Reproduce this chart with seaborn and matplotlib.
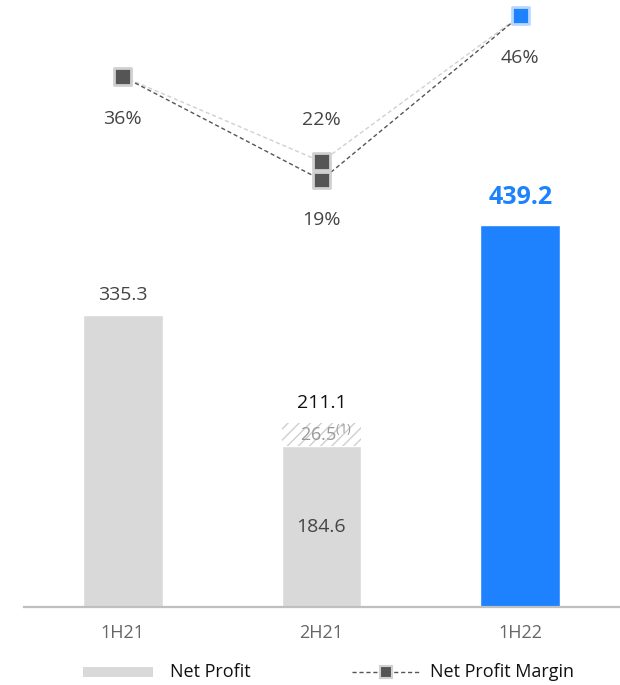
import matplotlib
matplotlib.use("Agg")
import matplotlib.pyplot as plt
from matplotlib.patches import Rectangle
from matplotlib.lines import Line2D
import seaborn as sns
import pandas as pd

# Half-year results
periods = ["1H21", "2H21", "1H22"]
net_profit = [335.3, 184.6, 439.2]          # base net profit
adjustment = [0.0, 26.5, 0.0]               # one-off item stacked on 2H21
total_profit = [335.3, 211.1, 439.2]
margin_reported = [36, 19, 46]              # net profit margin, %
margin_adjusted = [36, 22, 46]              # margin including the adjustment, %

GRAY_BAR = "#d9d9d9"
BLUE = "#1e82ff"
DARK = "#555555"
LIGHT = "#d0d0d0"
TEXT = "#444444"

sns.set_theme(style="white")
plt.rcParams["font.family"] = ["Open Sans", "Noto Sans", "DejaVu Sans"]
plt.rcParams["mathtext.fontset"] = "custom"
plt.rcParams["mathtext.rm"] = "Open Sans"
plt.rcParams["hatch.linewidth"] = 1.0
plt.rcParams["hatch.color"] = "#cfcfcf"

W, H = 620, 685
fig = plt.figure(figsize=(W / 100, H / 100), dpi=100)
ax = fig.add_axes([24 / W, 78 / H, 595 / W, 607 / H])

bar_colors = [GRAY_BAR, GRAY_BAR, BLUE]
df = pd.DataFrame({"period": periods, "profit": net_profit})
sns.barplot(data=df, x="period", y="profit", hue="period", palette=bar_colors,
            order=periods, width=0.4, saturation=1, legend=False, ax=ax)

# hatched adjustment on top of the 2H21 bar
ax.bar([1], [adjustment[1]], bottom=[net_profit[1]], width=0.4,
       facecolor="white", edgecolor="#cfcfcf", hatch="///", linewidth=0, zorder=2)

ax.set_xlim(-0.497, 2.497)
ax.set_ylim(0, 697)
ax.set_xlabel("")
ax.set_ylabel("")
ax.set_yticks([])
for s in ["top", "left", "right"]:
    ax.spines[s].set_visible(False)
ax.spines["bottom"].set_color("#bfbfbf")
ax.spines["bottom"].set_linewidth(1.6)
ax.tick_params(axis="x", length=0, pad=12, labelsize=13, labelcolor="#666666")

# bar value labels
ax.annotate(f"{total_profit[0]:.1f}", (0, total_profit[0]), xytext=(0, 20),
            textcoords="offset pixels", ha="center", va="center",
            fontsize=14, color=TEXT)
ax.annotate(f"{total_profit[1]:.1f}", (1, total_profit[1]), xytext=(0, 20),
            textcoords="offset pixels", ha="center", va="center",
            fontsize=14, color="#111111")
ax.annotate(f"{total_profit[2]:.1f}", (2, total_profit[2]), xytext=(0, 27),
            textcoords="offset pixels", ha="center", va="center",
            fontsize=18, color=BLUE, fontweight="bold")
ax.text(1, net_profit[1] / 2, f"{net_profit[1]:.1f}", ha="center", va="center",
        fontsize=14, color=TEXT)
ax.text(1.02, net_profit[1] + adjustment[1] / 2, f"{adjustment[1]:.1f}" + r"$^{(1)}$",
        ha="center", va="center", fontsize=13, color="#9a9a9a")

# margin lines on a secondary scale
ax2 = ax.twinx()
ax2.set_ylim(-51.2, 48.59)
ax2.set_yticks([])
for s in ax2.spines.values():
    s.set_visible(False)

xs = [0, 1, 2]
sns.lineplot(x=xs, y=margin_adjusted, color=LIGHT, lw=1, dashes=False,
             ax=ax2, sort=False, legend=False)
sns.lineplot(x=xs, y=margin_reported, color=DARK, lw=1, dashes=False,
             ax=ax2, sort=False, legend=False)
for ln in ax2.lines:
    ln.set_linestyle((0, (3, 2)))

pt_x = xs + [1]
pt_y = margin_reported + [margin_adjusted[1]]
face = [DARK, DARK, BLUE, DARK]
edge = [LIGHT, LIGHT, "#b9d8ff", LIGHT]
ax2.scatter(pt_x, pt_y, marker="s", s=12 ** 2, c=face, edgecolors=edge,
            linewidths=2, zorder=5)

# margin labels
label_spec = [(0, margin_reported[0], -42), (1, margin_reported[1], -40),
              (2, margin_reported[2], -42), (1, margin_adjusted[1], 42)]
for x, v, dy in label_spec:
    ax2.annotate(f"{v}%", (x, v), xytext=(0, dy), textcoords="offset pixels",
                 ha="center", va="center", fontsize=14, color=TEXT)

# legend
def fx(px):
    return px / W

def fy(py):
    return 1 - py / H

fig.patches.append(Rectangle((fx(83), fy(677)), fx(70), 10 / H,
                             transform=fig.transFigure, facecolor=GRAY_BAR,
                             edgecolor="none"))
fig.text(fx(170), fy(672), "Net Profit", ha="left", va="center",
         fontsize=13, color="#111111")
fig.lines.append(Line2D([fx(352), fx(420)], [fy(672), fy(672)],
                        transform=fig.transFigure, color=DARK, lw=1,
                        linestyle=(0, (3, 2))))
fig.lines.append(Line2D([fx(386)], [fy(672)], transform=fig.transFigure,
                        marker="s", markersize=8, markerfacecolor=DARK,
                        markeredgecolor=LIGHT, markeredgewidth=1.5,
                        linestyle="none"))
fig.text(fx(430), fy(672), "Net Profit Margin", ha="left", va="center",
         fontsize=13, color="#111111")

fig.savefig("out.png", dpi=100)
